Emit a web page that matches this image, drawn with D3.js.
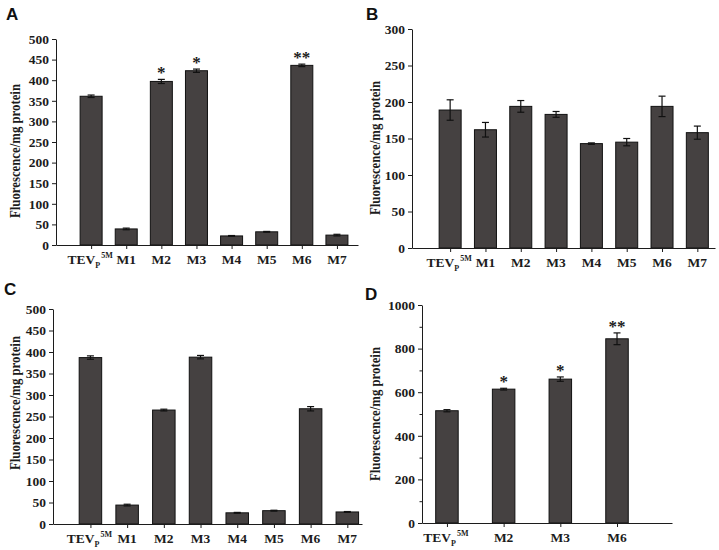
<!DOCTYPE html>
<html><head><meta charset="utf-8">
<script src="https://cdn.jsdelivr.net/npm/d3@7"></script>
<style>body{margin:0;background:#fff}svg{display:block}</style>
</head><body>
<svg id="chart" width="719" height="550"></svg>
<script>
// ---- data ----
const categoriesABC = ["TEVP5M","M1","M2","M3","M4","M5","M6","M7"];
const categoriesD = ["TEVP5M","M2","M3","M6"];
const valuesA = [361,39,397,423,22,32,436,24];
const errorsA = [3,2,5,4,1,1,3,2];
const starsA = ["","","*","*","","","**",""];
const valuesB = [189,162,194,183,143,145,194,158];
const errorsB = [14,10,8,4,1,5,14,9];
const starsB = ["","","","","","","",""];
const valuesC = [387,44,265,388,26,31,268,28];
const errorsC = [4,2,2,4,1,1,5,1];
const starsC = ["","","","","","","",""];
const valuesD = [515,614,660,845];
const errorsD = [5,4,10,27];
const starsD = ["","*","*","**"];
const ticksA = [0,50,100,150,200,250,300,350,400,450,500];
const ticksB = [0,50,100,150,200,250,300];
const ticksC = [0,50,100,150,200,250,300,350,400,450,500];
const ticksD = [0,200,400,600,800,1000];
const minorTicksD = [100,300,500,700,900];
const yTitle = "Fluorescence/mg protein";

// ---- layout ----
const panels = [
  {letter:"A", cats:categoriesABC, vals:valuesA, errs:errorsA, stars:starsA, ticks:ticksA, minor:[], ymax:500,
   xr:[56,358], xd:[-1,7.6], yr:[245,39], bw:22, lx:6, ly:20, tx:15, ty:151},
  {letter:"B", cats:categoriesABC, vals:valuesB, errs:errorsB, stars:starsB, ticks:ticksB, minor:[], ymax:300,
   xr:[412,715], xd:[-1.08,7.5], yr:[248,29], bw:22, lx:366, ly:20, tx:375, ty:148},
  {letter:"C", cats:categoriesABC, vals:valuesC, errs:errorsC, stars:starsC, ticks:ticksC, minor:[], ymax:500,
   xr:[53,362], xd:[-1.02,7.4], yr:[524,309], bw:22.5, lx:4, ly:295, tx:15, ty:403},
  {letter:"D", cats:categoriesD, vals:valuesD, errs:errorsD, stars:starsD, ticks:ticksD, minor:minorTicksD, ymax:1000,
   xr:[422,672], xd:[-0.44,3.97], yr:[523,305], bw:22.5, lx:365, ly:300, tx:375, ty:414}
];

const svg = d3.select("#chart");
const serif = "'Liberation Serif','Times New Roman',serif";
const ink = "#1c1c1c";
const barFill = "#454141";

panels.forEach(p => {
  const g = svg.append("g");
  const x = d3.scaleLinear().domain(p.xd).range(p.xr);
  const y = d3.scaleLinear().domain([0,p.ymax]).range(p.yr);

  // panel letter
  g.append("text").attr("x",p.lx).attr("y",p.ly).text(p.letter)
    .attr("font-family","'Liberation Sans',Arial,sans-serif").attr("font-weight","bold")
    .attr("font-size",17).attr("fill","#111");

  // y title
  g.append("text").attr("transform",`translate(${p.tx+5},${p.ty}) rotate(-90)`)
    .attr("text-anchor","middle").attr("font-family",serif).attr("font-weight","bold")
    .attr("font-size",14.5).attr("textLength",134).attr("lengthAdjust","spacingAndGlyphs")
    .attr("fill",ink).text(yTitle);

  // bars
  const idx = d3.range(p.cats.length);
  g.selectAll("rect.bar").data(idx).join("rect")
    .attr("x",i=>x(i)-p.bw/2).attr("width",p.bw)
    .attr("y",i=>y(p.vals[i])).attr("height",i=>y(0)-y(p.vals[i]))
    .attr("fill",barFill).attr("stroke","#111").attr("stroke-width",1);

  // error bars
  const eb = g.selectAll("g.err").data(idx).join("g");
  eb.append("line").attr("x1",i=>x(i)).attr("x2",i=>x(i))
    .attr("y1",i=>y(p.vals[i]+p.errs[i])).attr("y2",i=>y(p.vals[i]-p.errs[i]))
    .attr("stroke","#111").attr("stroke-width",1.2);
  [1,-1].forEach(s=>{
    eb.append("line").attr("x1",i=>x(i)-3.5).attr("x2",i=>x(i)+3.5)
      .attr("y1",i=>y(p.vals[i]+s*p.errs[i])).attr("y2",i=>y(p.vals[i]+s*p.errs[i]))
      .attr("stroke","#111").attr("stroke-width",1.2);
  });

  // stars
  g.selectAll("text.star").data(idx.filter(i=>p.stars[i])).join("text")
    .attr("x",i=>x(i)).attr("y",i=>y(p.vals[i]+p.errs[i])-1)
    .attr("text-anchor","middle").attr("font-family",serif).attr("font-weight","bold")
    .attr("font-size",17).attr("fill",ink).text(i=>p.stars[i]);

  // y axis
  const ya = g.append("g").attr("transform",`translate(${p.xr[0]},0)`)
    .call(d3.axisLeft(y).tickValues(p.ticks).tickFormat(d3.format("d")).tickSize(4).tickSizeOuter(0).tickPadding(3));
  ya.selectAll("text").attr("font-family",serif).attr("font-weight","bold").attr("font-size",13.5).attr("fill",ink);
  ya.selectAll("line,path").attr("stroke",ink);
  if (p.minor.length) {
    g.append("g").attr("transform",`translate(${p.xr[0]},0)`)
      .call(d3.axisLeft(y).tickValues(p.minor).tickSize(2.5).tickFormat(""))
      .call(s=>s.select(".domain").remove())
      .selectAll("line").attr("stroke",ink);
  }

  // x axis
  const xa = g.append("g").attr("transform",`translate(0,${y(0)})`)
    .call(d3.axisBottom(x).tickValues(idx).tickSize(4).tickSizeOuter(0).tickFormat(""));
  xa.selectAll("line,path").attr("stroke",ink);

  // x labels
  idx.forEach(i=>{
    const lab = p.cats[i];
    const t = g.append("text").attr("x",x(i)).attr("y",y(0)+19)
      .attr("text-anchor","middle").attr("font-family",serif).attr("font-weight","bold")
      .attr("font-size",13.5).attr("fill",ink);
    if (lab === "TEVP5M") {
      t.attr("x",x(i)-1);
      t.append("tspan").text("TEV");
      t.append("tspan").attr("font-size",8).attr("dy",4).text("P");
      t.append("tspan").attr("font-size",8).attr("dy",-10).attr("dx",1).text("5M");
    } else {
      t.text(lab);
    }
  });
});
</script>
</body></html>
